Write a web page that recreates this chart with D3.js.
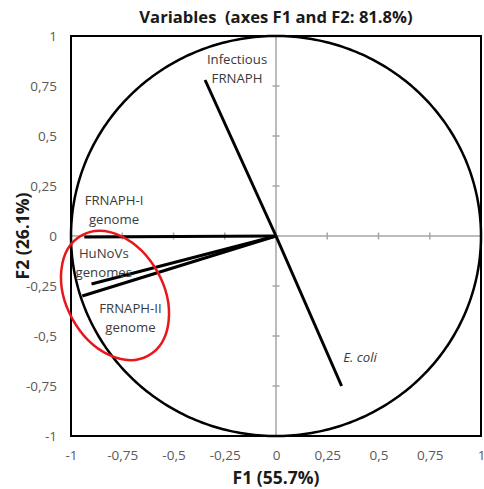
<!DOCTYPE html>
<html>
<head>
<meta charset="utf-8">
<script src="https://cdn.jsdelivr.net/npm/d3@7"></script>
<style>
  html, body { margin: 0; padding: 0; background: #fff; }
  svg { display: block; font-family: "Open Sans", "Noto Sans", sans-serif; }
  .pre { white-space: pre; }
</style>
</head>
<body>
<svg id="chart" width="484" height="489"></svg>
<script>
// Correlation circle: variables projected on factors F1 and F2
const variables = ["Infectious FRNAPH", "FRNAPH-I genome", "HuNoVs genomes", "FRNAPH-II genome", "E. coli"];
const f1Values = [-0.346, -0.935, -0.90, -0.945, 0.32];
const f2Values = [0.78, -0.005, -0.24, -0.30, -0.75];
const tickValues = [-1, -0.75, -0.5, -0.25, 0, 0.25, 0.5, 0.75, 1];
const tickLabels = ["-1", "-0,75", "-0,5", "-0,25", "0", "0,25", "0,5", "0,75", "1"];

const svg = d3.select("#chart");
const plot = { left: 71, right: 481, top: 36, bottom: 436 };

const x = d3.scaleLinear().domain([-1, 1]).range([plot.left, plot.right]);
const y = d3.scaleLinear().domain([-1, 1]).range([plot.bottom, plot.top]);

// Title
svg.append("text")
  .attr("class", "pre")
  .attr("x", 276).attr("y", 23)
  .attr("text-anchor", "middle")
  .attr("font-size", 16.6).attr("font-weight", "bold")
  .attr("fill", "#1a1a1a")
  .text("Variables  (axes F1 and F2: 81.8%)");

// Tick labels (outside the frame)
const fmt = d => tickLabels[tickValues.indexOf(d)];
const xAxis = d3.axisBottom(x).tickValues(tickValues).tickFormat(fmt).tickSize(0).tickPadding(14);
const yAxis = d3.axisLeft(y).tickValues(tickValues).tickFormat(fmt).tickSize(0).tickPadding(14);

const gx = svg.append("g").attr("transform", `translate(0,${plot.bottom})`).call(xAxis);
const gy = svg.append("g").attr("transform", `translate(${plot.left},0)`).call(yAxis);
[gx, gy].forEach(g => {
  g.select(".domain").remove();
  g.selectAll("text").attr("font-size", 13.5).attr("fill", "#595959")
    .attr("font-family", "'Open Sans', sans-serif");
});

// Gray zero axes with small crossing ticks
const zero = svg.append("g").attr("stroke", "#a6a6a6").attr("stroke-width", 1.5);
zero.append("line").attr("x1", x(-1)).attr("x2", x(1)).attr("y1", y(0)).attr("y2", y(0));
zero.append("line").attr("x1", x(0)).attr("x2", x(0)).attr("y1", y(-1)).attr("y2", y(1));
zero.selectAll(".tx").data(tickValues.slice(1, -1)).join("line")
  .attr("x1", d => x(d)).attr("x2", d => x(d))
  .attr("y1", y(0) - 3.5).attr("y2", y(0) + 3.5);
zero.selectAll(".ty").data(tickValues.slice(1, -1)).join("line")
  .attr("x1", x(0) - 3.5).attr("x2", x(0) + 3.5)
  .attr("y1", d => y(d)).attr("y2", d => y(d));

// Unit circle
const circlePath = d3.line().curve(d3.curveLinearClosed)
  .x(a => x(Math.cos(a))).y(a => y(Math.sin(a)));
svg.append("path")
  .attr("d", circlePath(d3.range(0, 2 * Math.PI, Math.PI / 180)))
  .attr("fill", "none").attr("stroke", "#000").attr("stroke-width", 2.5);

// Variable vectors
svg.append("g").selectAll("line").data(variables).join("line")
  .attr("x1", x(0)).attr("y1", y(0))
  .attr("x2", (d, i) => x(f1Values[i])).attr("y2", (d, i) => y(f2Values[i]))
  .attr("stroke", "#000").attr("stroke-width", 3);

// Frame
svg.append("rect")
  .attr("x", plot.left).attr("y", plot.top)
  .attr("width", plot.right - plot.left).attr("height", plot.bottom - plot.top)
  .attr("fill", "none").attr("stroke", "#000").attr("stroke-width", 2);

// Variable labels (anchor in factor coordinates, centered text)
const labelLayout = [
  { lines: ["Infectious", "FRNAPH"], f1: -0.19, f2: 0.86, italic: false },
  { lines: ["FRNAPH-I", "genome"], f1: -0.79, f2: 0.155, italic: false },
  { lines: ["HuNoVs", "genomes"], f1: -0.84, f2: -0.11, italic: false },
  { lines: ["FRNAPH-II", "genome"], f1: -0.71, f2: -0.385, italic: false },
  { lines: ["E. coli"], f1: 0.41, f2: -0.63, italic: true }
];
const labels = svg.append("g").attr("font-size", 13.2).attr("fill", "#3a3a3a")
  .attr("text-anchor", "middle");
labelLayout.forEach(l => {
  const t = labels.append("text")
    .attr("x", x(l.f1)).attr("y", y(l.f2))
    .attr("font-style", l.italic ? "italic" : "normal");
  l.lines.forEach((s, k) => {
    t.append("tspan").attr("x", x(l.f1)).attr("dy", k === 0 ? 0 : 18.5).text(s);
  });
});

// Highlight ellipse around the genome variables
svg.append("ellipse")
  .attr("cx", 115).attr("cy", 295.5)
  .attr("rx", 68.7).attr("ry", 48.6)
  .attr("transform", "rotate(61,115,295.5)")
  .attr("fill", "none").attr("stroke", "#e8171b").attr("stroke-width", 2.5);

// Axis titles
svg.append("text")
  .attr("x", 276).attr("y", 484)
  .attr("text-anchor", "middle")
  .attr("font-size", 17.5).attr("font-weight", "bold").attr("fill", "#1a1a1a")
  .text("F1 (55.7%)");
svg.append("text")
  .attr("transform", `translate(29,${y(0)}) rotate(-90)`)
  .attr("text-anchor", "middle")
  .attr("font-size", 17.5).attr("font-weight", "bold").attr("fill", "#1a1a1a")
  .text("F2 (26.1%)");
</script>
</body>
</html>
